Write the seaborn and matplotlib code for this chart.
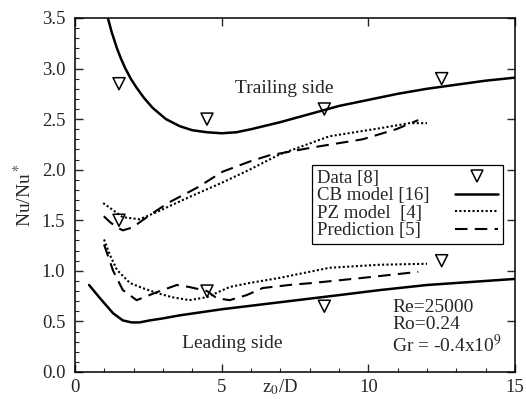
import numpy as np
import pandas as pd
import matplotlib
matplotlib.use("Agg")
import matplotlib.pyplot as plt
from matplotlib.lines import Line2D
from matplotlib.ticker import MultipleLocator, FormatStrFormatter
import seaborn as sns

# ---------------- data ----------------
trail_cb_x = [1.12, 1.25, 1.43, 1.55, 1.7, 1.9, 2.1, 2.35, 2.65, 3.1, 3.57, 4.0, 4.5, 5.0,
              5.5, 6.0, 7.0, 8.0, 9.0, 10.0, 11.0, 12.0, 13.0, 14.0, 15.0]
trail_cb_y = [3.5, 3.36, 3.2, 3.11, 3.01, 2.9, 2.81, 2.71, 2.61, 2.5, 2.43, 2.39, 2.37, 2.36,
              2.37, 2.40, 2.47, 2.55, 2.63, 2.69, 2.75, 2.80, 2.84, 2.88, 2.91]

lead_cb_x = [0.48, 0.85, 1.3, 1.63, 1.93, 2.2, 2.55, 3.0, 3.57, 5.0, 7.0, 9.0, 10.4, 12.0,
             13.5, 15.0]
lead_cb_y = [0.86, 0.73, 0.58, 0.51, 0.49, 0.49, 0.51, 0.53, 0.56, 0.62, 0.69, 0.76, 0.81,
             0.86, 0.89, 0.92]

trail_pz_x = [0.96, 1.3, 1.63, 2.2, 2.78, 3.3, 3.9, 5.0, 5.95, 6.97, 8.67, 10.4, 11.4, 12.0]
trail_pz_y = [1.67, 1.60, 1.53, 1.51, 1.58, 1.65, 1.73, 1.87, 2.00, 2.15, 2.33, 2.41, 2.46, 2.46]

trail_pred_x = [0.98, 1.2, 1.43, 1.63, 1.97, 2.3, 2.8, 3.23, 4.15, 5.03, 5.95, 6.6, 8.1, 9.8,
                10.95, 11.7]
trail_pred_y = [1.54, 1.48, 1.43, 1.40, 1.43, 1.50, 1.60, 1.68, 1.82, 1.98, 2.08, 2.14, 2.22,
                2.30, 2.40, 2.49]

lead_pz_x = [0.99, 1.2, 1.43, 1.87, 2.3, 2.8, 3.3, 3.9, 4.5, 5.27, 5.95, 6.97, 8.67, 10.37, 12.0]
lead_pz_y = [1.31, 1.15, 1.01, 0.88, 0.83, 0.78, 0.74, 0.71, 0.74, 0.84, 0.88, 0.93, 1.03,
             1.06, 1.07]

lead_pred_x = [0.99, 1.3, 1.63, 2.1, 2.8, 3.47, 3.9, 4.5, 4.83, 5.27, 5.85, 6.4, 7.3, 8.1,
               9.8, 11.7]
lead_pred_y = [1.26, 1.0, 0.81, 0.71, 0.79, 0.86, 0.84, 0.80, 0.73, 0.71, 0.76, 0.83, 0.86,
               0.88, 0.93, 0.99]

data_x = [1.5, 4.5, 8.5, 12.5, 1.5, 4.5, 8.5, 12.5]
data_y = [2.85, 2.5, 2.6, 2.9, 1.5, 0.8, 0.65, 1.1]

legend_labels = ["Data [8]", "CB model [16]", "PZ model  [4]", "Prediction [5]"]

# ---------------- style ----------------
sns.set_theme(style="ticks")
plt.rcParams["font.family"] = ["Liberation Serif", "DejaVu Serif"]
plt.rcParams["mathtext.fontset"] = "stix"
plt.rcParams["axes.linewidth"] = 1.1

fig = plt.figure(figsize=(5.26, 3.99), dpi=100)
ax = fig.add_axes([0.1426, 0.0677, 0.8365, 0.8873])

lw_solid = 1.8
lw_other = 1.5
dotted = (0, (1.0, 1.1))
dashed = (0, (6.0, 3.5))

def line(x, y, ls, lw):
    df = pd.DataFrame({"x": x, "y": y})
    sns.lineplot(data=df, x="x", y="y", ax=ax, color="black", sort=False,
                 estimator=None, linewidth=lw, linestyle=ls)

line(trail_cb_x, trail_cb_y, "-", lw_solid)
line(lead_cb_x, lead_cb_y, "-", lw_solid)
line(trail_pz_x, trail_pz_y, dotted, lw_other)
line(lead_pz_x, lead_pz_y, dotted, lw_other)
line(trail_pred_x, trail_pred_y, dashed, lw_other)
line(lead_pred_x, lead_pred_y, dashed, lw_other)

sns.scatterplot(x=data_x, y=data_y, ax=ax, marker="v", s=75,
                facecolor="none", edgecolor="black", linewidth=1.1, zorder=5)

ax.set_xlim(0, 15)
ax.set_ylim(0, 3.5)
ax.xaxis.set_major_locator(MultipleLocator(5))
ax.xaxis.set_minor_locator(MultipleLocator(1))
ax.yaxis.set_major_locator(MultipleLocator(0.5))
ax.yaxis.set_minor_locator(MultipleLocator(0.1))
ax.yaxis.set_major_formatter(FormatStrFormatter("%.1f"))
ax.tick_params(which="major", direction="in", length=6, width=1.0,
               top=True, right=True, labelsize=13.5, pad=5)
ax.tick_params(which="minor", direction="in", length=3, width=0.8,
               top=False, right=False)
ax.tick_params(axis="y", which="major", pad=7)
for s in ax.spines.values():
    s.set_visible(True)
    s.set_color("black")

ax.set_xlabel(r"z$_0$/D", fontsize=13.5)
ax.xaxis.set_label_coords(0.466, -0.015)
ax.set_ylabel(r"Nu/Nu$^*$", fontsize=14)
ax.yaxis.set_label_coords(-0.09, 0.5)

ax.text(5.44, 2.76, "Trailing side", fontsize=14, va="baseline")
ax.text(3.64, 0.24, "Leading side", fontsize=14, va="baseline")
ax.text(10.82, 0.72, "Re=25000\nRo=0.24\nGr = -0.4x10$^9$", fontsize=14,
        va="top", ha="left", linespacing=1.02)

handles = [
    Line2D([], [], marker="v", linestyle="none", markerfacecolor="none",
           markeredgecolor="black", markersize=8.5, markeredgewidth=1.1),
    Line2D([], [], color="black", linestyle="-", linewidth=lw_solid),
    Line2D([], [], color="black", linestyle=dotted, linewidth=lw_other),
    Line2D([], [], color="black", linestyle=dashed, linewidth=lw_other),
]
leg = ax.legend(handles, legend_labels, loc="upper left",
                bbox_to_anchor=(0.539, 0.585), borderaxespad=0,
                markerfirst=False, fontsize=13.5, handlelength=2.3,
                labelspacing=0.02, handletextpad=0.4, borderpad=0.25,
                frameon=True, fancybox=False, framealpha=1)
leg.get_frame().set_edgecolor("black")
leg.get_frame().set_linewidth(0.9)

# left-align the labels, keep the handles in a right-hand column
fig.canvas.draw()
renderer = fig.canvas.get_renderer()
col = leg._legend_handle_box.get_children()[0]
items = col.get_children()
pad_px = 0.25 * 13.5 * renderer.points_to_pixels(1.0)
target_w = 191 - 2 * pad_px
W = max([it.get_bbox(renderer).width for it in items] + [target_w])
for it in items:
    it.mode = "expand"
    it.width = W
col.align = "left"

fig.savefig("out.png", dpi=100)
